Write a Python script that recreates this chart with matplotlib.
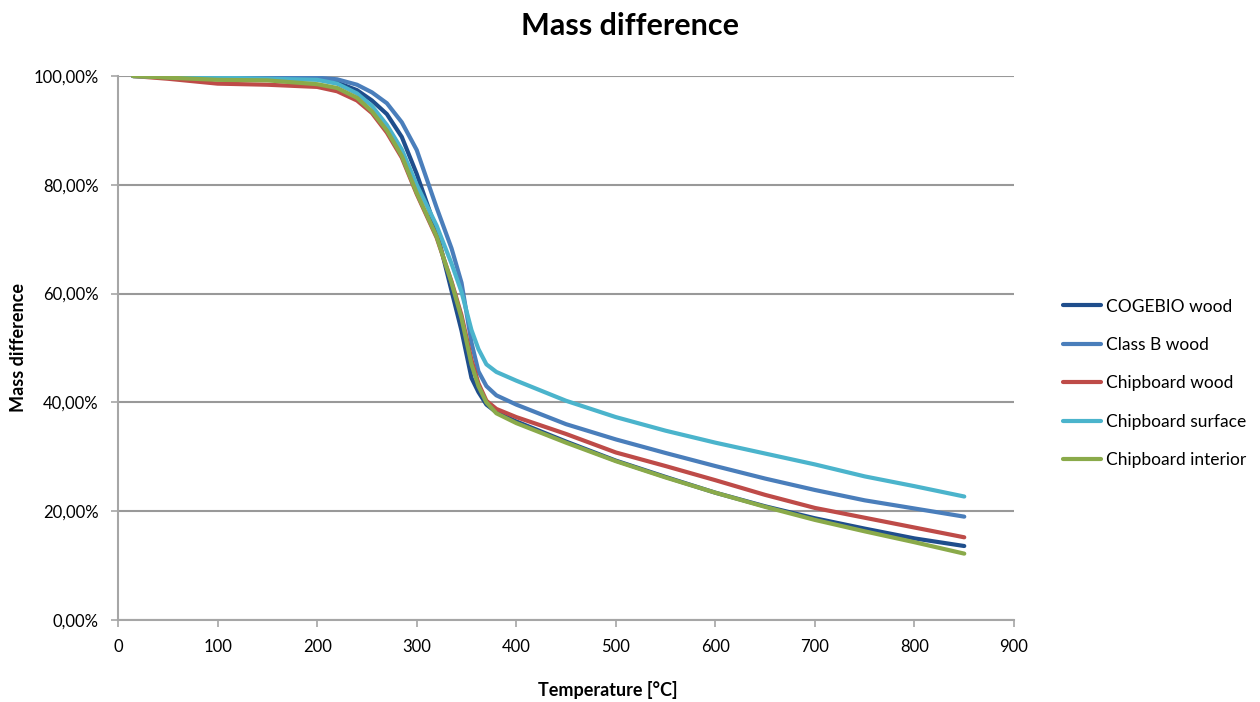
import matplotlib
matplotlib.use("Agg")
import matplotlib.pyplot as plt
from matplotlib.ticker import FuncFormatter, MultipleLocator

plt.rcParams['font.family'] = ['Lato', 'DejaVu Sans']

# temperature knots [°C] shared by all samples
temps = [15, 50, 100, 150, 200, 220, 240, 255, 270, 285, 300, 320, 335, 345, 355, 362,
         370, 380, 400, 450, 500, 550, 600, 650, 700, 750, 800, 850]

# residual mass [%] per sample
cogebio = [100, 99.9, 99.8, 99.7, 99.5, 98.8, 97.4, 95.5, 93.0, 88.8, 82.0, 71.5, 60.5, 53.2,
           44.5, 41.9, 39.6, 38.2, 36.5, 32.8, 29.3, 26.3, 23.4, 20.9, 18.7, 16.8, 15.0, 13.6]
class_b = [100, 99.9, 99.8, 99.7, 99.7, 99.4, 98.4, 97.0, 95.0, 91.5, 86.4, 75.8, 68.3, 62.0,
           51.0, 45.7, 43.0, 41.3, 39.6, 36.0, 33.2, 30.7, 28.3, 26.0, 23.9, 22.0, 20.5, 19.0]
chip_wood = [100, 99.5, 98.6, 98.4, 98.0, 97.2, 95.5, 93.2, 89.6, 85.0, 78.3, 70.3, 62.2, 56.0,
             47.8, 43.5, 40.3, 38.8, 37.3, 34.2, 30.8, 28.3, 25.7, 23.0, 20.6, 18.8, 17.0, 15.2]
chip_surface = [100, 99.8, 99.7, 99.5, 99.3, 98.6, 96.8, 94.5, 91.0, 86.5, 80.0, 72.5, 65.5, 60.3,
                53.3, 49.8, 47.0, 45.6, 44.0, 40.3, 37.3, 34.8, 32.6, 30.6, 28.6, 26.4, 24.6, 22.7]
chip_interior = [100, 99.7, 99.3, 99.2, 98.5, 97.8, 96.0, 93.5, 90.0, 85.3, 78.5, 70.5, 62.0, 55.5,
                 47.0, 43.0, 40.0, 38.0, 36.2, 32.6, 29.2, 26.2, 23.4, 20.8, 18.4, 16.3, 14.3, 12.2]

labels = ["COGEBIO wood", "Class B wood", "Chipboard wood",
          "Chipboard surface", "Chipboard interior"]
colors = ["#1F4E8C", "#4A7EBB", "#BE4B48", "#4BB4CC", "#8AAA4A"]

fig = plt.figure(figsize=(12.6, 7.02), dpi=100)
ax = fig.add_axes([0.0937, 0.1168, 0.7111, 0.7749])

for ys, lab, col in zip([cogebio, class_b, chip_wood, chip_surface, chip_interior],
                        labels, colors):
    ax.plot(temps, [v / 100 for v in ys], color=col, lw=3, label=lab,
            solid_capstyle='round', solid_joinstyle='round')

ax.set_xlim(0, 900)
ax.set_ylim(0, 1.0)
ax.xaxis.set_major_locator(MultipleLocator(100))
ax.yaxis.set_major_locator(MultipleLocator(0.2))
ax.yaxis.set_major_formatter(FuncFormatter(lambda v, p: f"{v * 100:.2f}%".replace(".", ",")))

ax.grid(axis='y', color='#999999', lw=1.5)
ax.set_axisbelow(True)
for side in ['top', 'right']:
    ax.spines[side].set_visible(False)
for side in ['left', 'bottom']:
    ax.spines[side].set_color('#a6a6a6')
    ax.spines[side].set_linewidth(1.5)
ax.tick_params(axis='both', colors='#a6a6a6', width=1.2, length=5, labelsize=12,
               labelcolor='black')
ax.tick_params(axis='y', pad=9)
ax.tick_params(axis='x', pad=9)

fig.suptitle("Mass difference", x=0.5, y=0.983, fontsize=22, fontweight='bold')
fig.text(0.015, 0.505, "Mass difference", rotation=90, ha='center', va='center',
         fontsize=13, fontweight='bold')
fig.text(0.482, 0.017, "Temperature [°C]", ha='center', va='center',
         fontsize=13, fontweight='bold')

ax.legend(loc='center left', bbox_to_anchor=(0.8437, 0.454),
          bbox_transform=fig.transFigure, frameon=False, fontsize=12.5, borderpad=0,
          borderaxespad=0, handlelength=2.2, handletextpad=0.3, labelspacing=1.29)

fig.savefig("out.png", dpi=100)
